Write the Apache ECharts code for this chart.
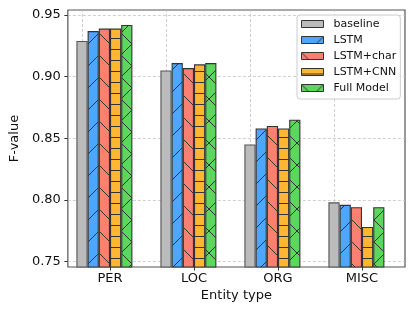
<!DOCTYPE html>
<html>
<head>
<meta charset="utf-8">
<script src="https://cdn.jsdelivr.net/npm/echarts@6/dist/echarts.min.js"></script>
<style>
  html, body { margin: 0; padding: 0; background: #fff; }
  #chart { width: 415px; height: 310px; }
</style>
</head>
<body>
<div id="chart"></div>
<script>
// ---- data ----
const categories = ['PER', 'LOC', 'ORG', 'MISC'];
const seriesNames = ['baseline', 'LSTM', 'LSTM+char', 'LSTM+CNN', 'Full Model'];
const baseline  = [0.929, 0.905, 0.845, 0.798];
const lstm      = [0.937, 0.911, 0.858, 0.796];
const lstmChar  = [0.939, 0.907, 0.860, 0.794];
const lstmCnn   = [0.939, 0.910, 0.858, 0.778];
const fullModel = [0.942, 0.911, 0.865, 0.794];
const yTicks = [0.75, 0.80, 0.85, 0.90, 0.95];
const yMin = 0.7455;
const yMax = 0.9541;

// ---- styling ----
const FONT = 'DejaVu Sans';
const fills = ['#bbbbbb', '#4da6ff', '#fa8072', '#ffb733', '#5cd65c'];
const hatchTypes = ['', '/', '\\', '-', 'x'];

function hatchPattern(bg, type) {
  const s = type === '-' ? 11 : 22;
  const c = document.createElement('canvas');
  c.width = s; c.height = s;
  const g = c.getContext('2d');
  g.fillStyle = bg;
  g.fillRect(0, 0, s, s);
  g.strokeStyle = '#333';
  g.lineWidth = 1;
  g.beginPath();
  if (type === '/' || type === 'x') {
    for (let k = -1; k <= 1; k++) { g.moveTo(k * s, s); g.lineTo(k * s + s, 0); }
  }
  if (type === '\\' || type === 'x') {
    for (let k = -1; k <= 1; k++) { g.moveTo(k * s, 0); g.lineTo(k * s + s, s); }
  }
  if (type === '-') {
    g.moveTo(0, 5.5); g.lineTo(s, 5.5);
  }
  g.stroke();
  return c;
}

function fillFor(i) {
  if (!hatchTypes[i]) return fills[i];
  return { image: hatchPattern(fills[i], hatchTypes[i]), repeat: 'repeat' };
}

const dataSets = [baseline, lstm, lstmChar, lstmCnn, fullModel];
const BW = 11.2;

const series = dataSets.map((d, i) => ({
  type: 'bar',
  name: seriesNames[i],
  xAxisIndex: 1,
  yAxisIndex: 1,
  data: d,
  barWidth: BW,
  barGap: '0%',
  itemStyle: { color: fillFor(i), borderColor: i === 0 ? '#555' : '#333', borderWidth: 1.1 },
  emphasis: { disabled: true },
  z: 2
}));
// vertical grid lines at category centres
series[0].markLine = {
  silent: true,
  symbol: 'none',
  z: 1,
  label: { show: false },
  lineStyle: { type: [3, 2], color: '#c4c4c4', width: 0.8 },
  data: categories.map(c => ({ xAxis: c }))
};
// empty padding slot so the group sits like the reference
series.push({
  type: 'bar', name: '_pad', xAxisIndex: 1, yAxisIndex: 1,
  data: categories.map(() => '-'), barWidth: BW, barGap: '0%', silent: true
});

const chart = echarts.init(document.getElementById('chart'), null, { renderer: 'canvas' });
chart.setOption({
  animation: false,
  textStyle: { fontFamily: FONT },
  grid: [
    { left: 60, right: 10, top: 10, bottom: 43, show: true, borderColor: '#555', borderWidth: 1.2, backgroundColor: '#fff' },
    { left: 68, right: 11, top: 10, bottom: 43 }
  ],
  xAxis: [
    {
      gridIndex: 0, type: 'value', min: 0, max: 1,
      axisLine: { show: false }, axisTick: { show: false }, axisLabel: { show: false }, splitLine: { show: false },
      name: 'Entity type', nameLocation: 'middle', nameGap: 22,
      nameTextStyle: { fontFamily: FONT, fontSize: 13, color: '#111' }
    },
    {
      gridIndex: 1, type: 'category', data: categories,
      axisLine: { show: false },
      axisTick: { show: true, alignWithLabel: true, length: 3.5, lineStyle: { color: '#333', width: 1 } },
      axisLabel: { fontFamily: FONT, fontSize: 13, color: '#111', margin: 5 },
      splitLine: { show: false }
    }
  ],
  yAxis: [
    {
      gridIndex: 0, type: 'value', min: yMin, max: yMax,
      axisLine: { show: false },
      axisTick: { show: true, length: 3.5, customValues: yTicks, lineStyle: { color: '#333', width: 1 } },
      axisLabel: { customValues: yTicks, fontFamily: FONT, fontSize: 13, color: '#111', margin: 7,
                   formatter: v => v.toFixed(2) },
      splitLine: { show: true, lineStyle: { type: [3, 2], color: '#c4c4c4', width: 0.8 } },
      name: 'F-value', nameLocation: 'middle', nameGap: 42,
      nameTextStyle: { fontFamily: FONT, fontSize: 13, color: '#111' }
    },
    {
      gridIndex: 1, type: 'value', min: yMin, max: yMax, show: false
    }
  ],
  legend: {
    data: seriesNames,
    orient: 'vertical',
    left: 297, top: 15,
    padding: [3, 4, 5, 4],
    itemWidth: 22, itemHeight: 7,
    itemGap: 4,
    icon: 'rect',
    backgroundColor: 'rgba(255,255,255,0.9)',
    borderColor: '#ccc', borderWidth: 1, borderRadius: 3,
    textStyle: { fontFamily: FONT, fontSize: 11, color: '#111', lineHeight: 12, padding: [0, 0, 0, 5] },
    itemStyle: { borderColor: '#333', borderWidth: 1 },
    selectedMode: false
  },
  series: series
});
</script>
</body>
</html>
